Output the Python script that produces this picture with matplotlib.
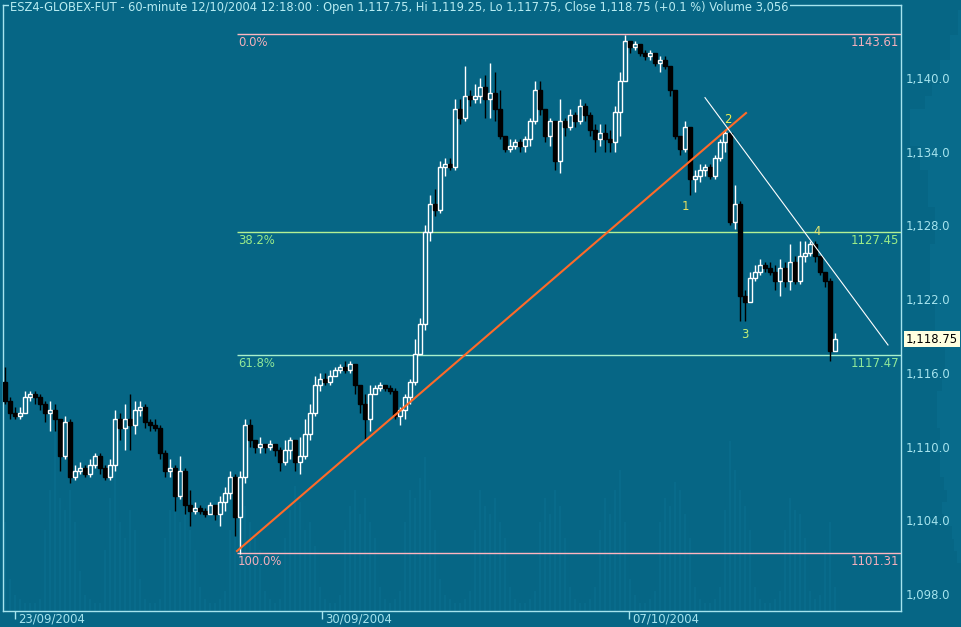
import numpy as np
import matplotlib.pyplot as plt
from matplotlib.patches import Rectangle

# hourly bars, one list entry per bar (open of a bar = close of the bar before)
first_open = 1115.25
closes = [1113.75, 1112.75, 1112.5, 1112.75, 1114.0, 1114.25, 1114.0, 1113.5, 1112.75, 1113.0,
          1112.25, 1109.25, 1112.0, 1107.5, 1108.0, 1108.25, 1107.75, 1108.5, 1109.25, 1108.25,
          1107.5, 1108.5, 1112.25, 1111.5, 1112.25, 1111.75, 1113.0, 1113.25, 1112.0, 1111.75,
          1111.5, 1109.5, 1108.0, 1108.25, 1106.0, 1108.0, 1105.25, 1104.75, 1105.0, 1104.75,
          1104.5, 1105.25, 1104.5, 1105.5, 1106.25, 1107.5, 1104.25, 1107.5, 1111.75, 1110.5,
          1110.0, 1110.25, 1110.0, 1110.25, 1109.75, 1108.75, 1109.75, 1110.5, 1108.75, 1109.25,
          1111.0, 1112.75, 1115.0, 1115.5, 1115.25, 1115.75, 1116.25, 1116.5, 1116.25, 1116.75,
          1115.0, 1113.5, 1112.25, 1114.25, 1114.75, 1115.0, 1114.75, 1114.5, 1112.5, 1113.0,
          1114.0, 1115.25, 1117.5, 1120.0, 1127.5, 1129.75, 1129.25, 1132.75, 1133.0, 1132.75,
          1137.5, 1136.75, 1138.5, 1138.25, 1138.5, 1139.25, 1138.25, 1138.75, 1137.5, 1135.25,
          1134.25, 1134.5, 1134.75, 1134.5, 1135.0, 1136.5, 1139.0, 1137.5, 1135.25, 1136.5,
          1133.25, 1136.5, 1136.0, 1137.0, 1136.5, 1137.75, 1137.0, 1135.75, 1135.0, 1135.5,
          1135.0, 1134.75, 1137.25, 1139.75, 1143.0, 1142.5, 1142.75, 1142.0, 1141.75, 1142.0,
          1141.25, 1141.5, 1141.0, 1139.0, 1135.25, 1134.25, 1136.0, 1131.75, 1132.0, 1132.5,
          1132.75, 1132.0, 1133.5, 1134.75, 1135.5, 1128.25, 1129.75, 1122.25, 1121.75, 1123.75,
          1124.25, 1124.75, 1124.5, 1124.25, 1123.5, 1124.5, 1123.5, 1125.0, 1123.5, 1125.5,
          1125.75, 1126.5, 1125.5, 1124.25, 1123.5, 1117.75, 1118.75]
highs = [1116.5, 1114.0, 1113.25, 1113.25, 1114.5, 1114.5, 1114.5, 1114.25, 1113.75, 1113.75,
         1113.5, 1112.25, 1112.5, 1112.25, 1108.5, 1108.75, 1108.5, 1109.0, 1109.5, 1109.5,
         1108.5, 1109.0, 1113.0, 1112.75, 1113.5, 1114.25, 1113.75, 1113.75, 1113.5, 1112.25,
         1112.25, 1111.75, 1109.75, 1109.0, 1108.5, 1109.25, 1108.25, 1106.5, 1105.5, 1105.25,
         1105.0, 1105.5, 1105.25, 1106.0, 1106.75, 1108.0, 1107.75, 1108.0, 1112.25, 1112.25,
         1110.5, 1110.75, 1110.25, 1110.5, 1110.25, 1110.0, 1110.5, 1110.75, 1110.5, 1110.75,
         1112.25, 1113.5, 1115.75, 1116.0, 1116.0, 1116.25, 1116.5, 1116.75, 1117.0, 1117.0,
         1116.75, 1115.0, 1114.25, 1115.0, 1115.0, 1115.25, 1115.0, 1115.0, 1114.75, 1113.25,
         1114.25, 1115.5, 1118.75, 1120.5, 1128.0, 1130.5, 1131.0, 1133.25, 1133.5, 1133.5,
         1138.25, 1138.25, 1141.0, 1139.0, 1139.5, 1140.0, 1140.25, 1141.25, 1140.5, 1139.0,
         1135.25, 1135.0, 1135.0, 1135.0, 1135.25, 1136.75, 1139.75, 1139.75, 1137.5, 1136.75,
         1136.5, 1138.25, 1136.75, 1137.5, 1137.25, 1138.25, 1138.0, 1137.25, 1136.25, 1136.25,
         1136.25, 1135.75, 1137.75, 1140.5, 1143.5, 1143.0, 1143.0, 1142.75, 1142.25, 1142.25,
         1142.0, 1141.75, 1141.75, 1141.0, 1139.0, 1135.25, 1136.5, 1135.75, 1132.5, 1133.0,
         1133.0, 1133.0, 1133.75, 1135.0, 1135.75, 1135.25, 1131.25, 1130.0, 1122.75, 1124.25,
         1124.75, 1125.25, 1125.0, 1125.0, 1124.75, 1125.25, 1125.0, 1126.5, 1125.5, 1126.75,
         1126.75, 1126.75, 1126.75, 1125.5, 1124.25, 1123.75, 1119.25]
lows = [1113.5, 1112.25, 1112.25, 1112.25, 1112.75, 1113.75, 1113.5, 1113.0, 1112.0, 1111.25,
        1111.25, 1108.0, 1109.0, 1107.0, 1107.25, 1107.75, 1107.5, 1107.5, 1108.25, 1107.75,
        1107.25, 1107.25, 1108.0, 1110.5, 1109.75, 1109.75, 1111.0, 1112.5, 1111.5, 1111.25,
        1111.25, 1109.0, 1107.5, 1107.5, 1104.75, 1105.75, 1104.5, 1103.5, 1104.5, 1104.5,
        1104.25, 1104.5, 1104.0, 1103.5, 1104.75, 1105.75, 1102.75, 1101.25, 1107.0, 1110.0,
        1109.5, 1109.5, 1109.5, 1109.75, 1109.25, 1108.0, 1108.5, 1109.0, 1108.0, 1107.75,
        1109.0, 1110.5, 1112.5, 1114.5, 1115.0, 1115.0, 1115.75, 1116.0, 1116.0, 1116.0,
        1114.25, 1112.75, 1110.5, 1111.25, 1114.25, 1114.5, 1114.5, 1114.25, 1112.25, 1111.75,
        1112.25, 1113.5, 1115.0, 1117.5, 1119.5, 1126.75, 1128.75, 1129.0, 1132.0, 1132.5,
        1132.5, 1136.25, 1136.5, 1137.75, 1138.0, 1138.0, 1136.75, 1136.75, 1136.5, 1135.0,
        1134.0, 1134.0, 1134.25, 1134.0, 1134.0, 1134.5, 1136.25, 1137.0, 1134.75, 1134.5,
        1132.5, 1132.25, 1135.25, 1135.75, 1136.0, 1136.25, 1136.5, 1135.25, 1134.0, 1134.5,
        1134.0, 1134.0, 1134.0, 1135.25, 1139.75, 1142.0, 1142.25, 1141.75, 1141.5, 1141.5,
        1141.0, 1140.5, 1140.75, 1138.5, 1135.0, 1133.75, 1134.0, 1130.5, 1130.75, 1131.5,
        1132.0, 1131.75, 1131.75, 1133.25, 1134.0, 1128.0, 1127.75, 1120.25, 1120.25, 1121.75,
        1123.5, 1124.0, 1124.25, 1124.0, 1122.75, 1122.25, 1123.0, 1122.75, 1123.25, 1123.25,
        1125.0, 1125.5, 1125.0, 1124.0, 1123.0, 1117.0, 1117.75]
# faint volume histogram behind the candles (thousands of contracts)
volumes = [22, 8, 4, 3, 2, 2, 2, 3,
           20, 30, 45, 28, 25, 30, 22, 10, 4, 3, 2, 2,
           15, 28, 35, 22, 18, 25, 20, 8, 3, 2, 2, 3,
           18, 25, 30, 22, 28, 20, 15, 6, 3, 2, 2, 3, 5,
           20, 28, 33, 26, 22, 18, 15, 5, 3, 2, 3,
           18, 25, 31, 27, 20, 22, 16, 6, 3, 2, 2, 4,
           20, 26, 30, 24, 28, 22, 18, 6, 3, 2, 3, 5,
           22, 30, 28, 33, 38, 30, 20, 8, 4, 3, 2, 2, 3, 5,
           20, 30, 26, 24, 28, 22, 18, 6, 3, 2, 2, 3, 5,
           22, 28, 24, 30, 26, 18, 6, 3, 2, 2, 3, 6,
           20, 28, 24, 30, 35, 22, 8, 4, 2, 2, 3, 5,
           22, 28, 26, 32, 30, 24, 18, 6, 3, 2, 2, 3, 6,
           25, 42, 35, 30, 26, 20, 6, 3, 2, 2, 3, 5,
           20, 28, 25, 24, 18, 5, 3, 4, 15, 22, 6]
# volume at price profile on the right edge
profile_prices = [1145, 1144, 1143, 1142, 1141, 1140, 1139, 1138, 1137, 1136, 1135, 1134, 1133,
                  1132, 1131, 1130, 1129, 1128, 1127, 1126, 1125, 1124, 1123, 1122, 1121, 1120,
                  1119, 1118, 1117, 1116, 1115, 1114, 1113, 1112, 1111, 1110, 1109, 1108, 1107,
                  1106, 1105, 1104, 1103, 1102, 1101]
profile_vols = [4, 4, 12, 12, 22, 22, 30, 37, 52, 52, 52, 42, 42, 34, 34, 34, 27, 27, 27, 32,
                32, 32, 32, 27, 27, 27, 22, 17, 17, 17, 20, 25, 25, 25, 22, 25, 22, 22, 18, 15,
                20, 18, 10, 8, 5]

date_tick_bars = [2, 63.4, 124.8]
date_labels = ['23/09/2004', '30/09/2004', '07/10/2004']
price_ticks = [1098, 1104, 1110, 1116, 1122, 1128, 1134, 1140]

# fibonacci retracement drawn between these two prices
fib_high = 1143.61
fib_low = 1101.31
fib_ratios = [0.0, 0.382, 0.618, 1.0]
fib_start_bar = 46.4

# hand drawn lines (bar, price) and elliott wave labels
trend_line = [(46.4, 1101.5), (148.2, 1137.15)]
channel_line = [(140.0, 1138.4), (176.6, 1118.27)]
wave_labels = ['1', '2', '3', '4']
wave_bars = [136.0, 144.6, 148.0, 162.4]
wave_prices = [1129.5, 1136.6, 1119.1, 1127.5]

title = ('ESZ4-GLOBEX-FUT - 60-minute 12/10/2004 12:18:00 : Open 1,117.75, Hi 1,119.25, '
         'Lo 1,117.75, Close 1,118.75 (+0.1 %) Volume 3,056')

bg = '#066685'
volcol = '#086b8b'
axcol = '#a6e4ee'
fs = 8.4
ymin, ymax = 1096.62, 1145.94
opens = [first_open] + closes[:-1]

fig = plt.figure(figsize=(9.62, 6.27), dpi=100, facecolor=bg)
ax = fig.add_axes([3/962, 16/627, 898/962, 606/627])
ax.set_zorder(2)
ax.set_facecolor(bg)
ax.set_xlim(-0.4, 179.2)
ax.set_ylim(ymin, ymax)

prof = fig.add_axes([903/962, 16/627, 59/962, 606/627])
prof.set_zorder(1)
prof.patch.set_visible(False)
prof.axis('off')
prof.barh(profile_prices, profile_vols, height=1.0, color=volcol, lw=0)
prof.set_xlim(59, 0)
prof.set_ylim(ymin, ymax)

for s in ax.spines.values():
    s.set_color(axcol)
    s.set_linewidth(1)

# volume: 150 thousand = full axis height
vscale = (ymax - ymin) / 150.0
ax.bar(range(len(volumes)), [v * vscale for v in volumes], bottom=ymin, width=0.55,
       color=volcol, lw=0, zorder=0.5)

# candles
w = 0.72
for i, (o, h, l, c) in enumerate(zip(opens, highs, lows, closes)):
    if c > o:
        ax.vlines(i, l, o, color='white', lw=1, zorder=3)
        ax.vlines(i, c, h, color='white', lw=1, zorder=3)
        ax.add_patch(Rectangle((i - w/2, o), w, c - o, fc=bg, ec='white', lw=1, zorder=3))
    elif c < o:
        ax.vlines(i, l, h, color='black', lw=1, zorder=3)
        ax.add_patch(Rectangle((i - w/2, c), w, o - c, fc='black', ec='black', lw=1, zorder=3))
    else:
        ax.vlines(i, l, h, color='black', lw=1, zorder=3)
        ax.hlines(c, i - w/2, i + w/2, color='black', lw=1, zorder=3)

# fibonacci levels
fib_line_cols = ['#ffb6c0', '#b4f094', '#a8f0cc', '#ffb6c0']
fib_text_cols = ['#f4b0bc', '#9cec88', '#90e89a', '#f4b0bc']
for r, lc, tc in zip(fib_ratios, fib_line_cols, fib_text_cols):
    lev = fib_high - r * (fib_high - fib_low)
    ax.hlines(lev, fib_start_bar, 179.2, color=lc, lw=1, zorder=2)
    ax.annotate('%.1f%%' % (r * 100), xy=(fib_start_bar, lev), xytext=(1, -2),
                textcoords='offset pixels', ha='left', va='top', color=tc, fontsize=fs, zorder=5)
    ax.annotate('%.2f' % lev, xy=(1, lev), xycoords=('axes fraction', 'data'), xytext=(-2, -2),
                textcoords='offset pixels', ha='right', va='top', color=tc, fontsize=fs, zorder=5)

# trend lines
tx, ty = zip(*trend_line)
ax.plot(tx, ty, color='#ff6a28', lw=1.5, zorder=4)
cx, cy = zip(*channel_line)
ax.plot(cx, cy, color='white', lw=0.8, zorder=4)

wave_cols = ['#e8e060', '#f0f050', '#c4f078', '#e8e870']
for t, b, p, col in zip(wave_labels, wave_bars, wave_prices, wave_cols):
    ax.text(b, p, t, color=col, fontsize=fs, ha='center', va='center', zorder=5)

# axes
ax.yaxis.tick_right()
ax.set_yticks(price_ticks)
ax.set_yticklabels(['{:,.1f}'.format(v) for v in price_ticks])
ax.tick_params(axis='y', length=0, pad=3, labelsize=fs, labelcolor=axcol)

ax.set_xticks(date_tick_bars)
ax.set_xticklabels([])
ax.tick_params(axis='x', direction='out', length=6, color=axcol, width=1)
for b, lab in zip(date_tick_bars, date_labels):
    ax.annotate(lab, xy=(b, 0), xycoords=('data', 'axes fraction'), xytext=(3, -2),
                textcoords='offset pixels', ha='left', va='top', color=axcol, fontsize=fs,
                annotation_clip=False)

# last price tag
ax.annotate('{:,.2f}'.format(closes[-1]), xy=(1, closes[-1]), xycoords=('axes fraction', 'data'),
            xytext=(5, 0), textcoords='offset pixels', ha='left', va='center', color='black',
            fontsize=fs, annotation_clip=False,
            bbox=dict(boxstyle='square,pad=0.15', fc='#ffffe0', ec='none'))

ax.annotate(title, xy=(0, 1), xycoords='axes fraction', xytext=(7, -3),
            textcoords='offset pixels', ha='left', va='center', color='#b8ecf2', fontsize=8.3,
            zorder=10, annotation_clip=False,
            bbox=dict(boxstyle='square,pad=0.1', fc=bg, ec='none'))

fig.savefig('out.png', dpi=100, facecolor=bg)
